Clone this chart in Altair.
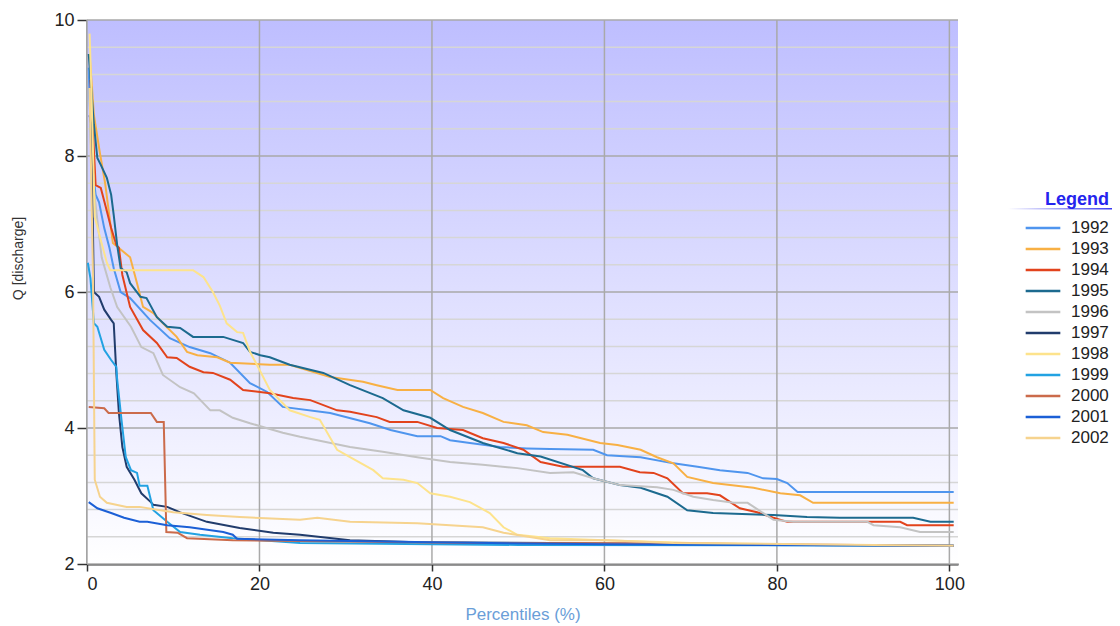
import altair as alt
import pandas as pd

years = ["1992", "1993", "1994", "1995", "1996", "1997", "1998", "1999", "2000", "2001", "2002"]
colors = ["#4f95ee", "#f8b044", "#e2431c", "#1c6a8f", "#c3c3c3", "#213c6c",
          "#fde38c", "#22a2e2", "#cb6b4b", "#1b5fd6", "#f6d38e"]

x_1992 = [0.2, 0.5, 1.0, 1.4, 2.0, 2.6, 3.1, 3.9, 5.0, 7.3, 9.6, 11.9, 14.3, 16.6, 18.9, 20.9, 22.7, 28.2,
          32.8, 35.2, 38.3, 41.0, 42.1, 44.4, 47.9, 51.0, 53.7, 58.7, 60.3, 64.2, 68.0, 70.8, 73.4, 76.6,
          78.4, 80.0, 81.2, 82.4, 100.5]
q_1992 = [9.3, 8.0, 7.43, 7.32, 6.94, 6.65, 6.35, 6.0, 5.91, 5.59, 5.32, 5.19, 5.1, 4.96, 4.66, 4.53, 4.31, 4.22,
          4.07, 3.97, 3.88, 3.88, 3.82, 3.78, 3.72, 3.70, 3.69, 3.68, 3.60, 3.57, 3.48, 3.43, 3.38, 3.34,
          3.26, 3.25, 3.19, 3.06, 3.06]

x_1993 = [0.3, 0.8, 1.5, 2.1, 3.0, 5.0, 5.8, 6.5, 7.7, 8.8, 10.4, 11.6, 12.8, 15.1, 16.6, 21.2, 23.5, 28.2,
          32.0, 33.6, 36.0, 39.8, 41.3, 43.6, 45.9, 48.3, 51.0, 52.9, 55.7, 59.5, 61.5, 64.2, 66.1, 68.0,
          69.6, 72.6, 77.3, 80.4, 82.7, 84.2, 100.5]
q_1993 = [9.5, 8.6, 8.04, 7.6, 6.72, 6.51, 6.13, 5.78, 5.69, 5.54, 5.34, 5.12, 5.07, 5.04, 4.96, 4.93, 4.93, 4.75,
          4.68, 4.63, 4.56, 4.56, 4.44, 4.31, 4.22, 4.09, 4.04, 3.94, 3.90, 3.78, 3.75, 3.68, 3.57, 3.48,
          3.28, 3.19, 3.12, 3.04, 3.01, 2.90, 2.90]

x_1994 = [0.4, 1.0, 1.6, 2.2, 2.8, 3.4, 3.7, 4.1, 5.0, 6.5, 8.1, 9.3, 10.4, 11.9, 13.5, 14.6, 16.6, 18.1,
          21.2, 23.9, 25.9, 29.0, 30.5, 33.6, 35.1, 38.3, 40.6, 43.6, 45.9, 48.3, 50.6, 52.6, 55.2, 61.8,
          64.1, 65.7, 67.3, 69.1, 71.9, 73.4, 75.7, 77.7, 79.6, 81.2, 94.3, 95.1, 100.5]
q_1994 = [9.12, 7.57, 7.53, 7.24, 6.94, 6.69, 6.65, 6.25, 5.78, 5.44, 5.25, 5.04, 5.03, 4.90, 4.82, 4.81, 4.71, 4.56,
          4.51, 4.44, 4.41, 4.26, 4.24, 4.16, 4.09, 4.09, 4.00, 3.97, 3.85, 3.78, 3.68, 3.50, 3.43, 3.43,
          3.35, 3.34, 3.26, 3.04, 3.04, 3.01, 2.82, 2.76, 2.68, 2.62, 2.62, 2.57, 2.57]

x_1995 = [0.2, 0.8, 1.2, 1.6, 2.3, 2.8, 3.1, 3.5, 3.9, 4.6, 5.0, 6.2, 6.9, 8.1, 9.3, 10.8, 12.3, 15.8, 18.1,
          18.9, 20.1, 21.2, 23.5, 27.4, 30.5, 34.3, 36.7, 39.8, 42.1, 45.9, 49.9, 52.6, 57.5, 58.7, 61.8,
          64.2, 67.3, 69.6, 72.6, 79.6, 83.5, 87.3, 95.8, 97.8, 100.5]
q_1995 = [9.5, 8.46, 7.97, 7.87, 7.68, 7.43, 7.13, 6.69, 6.35, 6.29, 6.13, 5.93, 5.91, 5.63, 5.49, 5.47, 5.34, 5.34, 5.25,
          5.12, 5.07, 5.04, 4.93, 4.81, 4.63, 4.44, 4.26, 4.15, 3.97, 3.78, 3.63, 3.58, 3.38, 3.26, 3.16,
          3.12, 2.99, 2.79, 2.75, 2.72, 2.69, 2.68, 2.68, 2.62, 2.62]

x_1996 = [0.3, 0.8, 1.7, 2.7, 3.5, 5.1, 6.3, 7.7, 8.8, 10.8, 12.4, 14.3, 15.4, 16.9, 18.9, 20.8, 22.7, 24.7,
          26.7, 30.5, 34.3, 38.3, 42.1, 45.9, 49.9, 53.7, 56.4, 58.7, 61.8, 66.1, 68.0, 70.3, 72.6, 75.0,
          76.6, 79.6, 81.9, 90.5, 91.2, 94.3, 96.6, 100.5]
q_1996 = [9.0, 7.5, 6.51, 6.07, 5.78, 5.49, 5.19, 5.10, 4.78, 4.60, 4.51, 4.26, 4.26, 4.15, 4.07, 4.00, 3.93, 3.87,
          3.82, 3.72, 3.65, 3.57, 3.50, 3.46, 3.41, 3.34, 3.35, 3.26, 3.16, 3.13, 3.09, 2.99, 2.94, 2.90,
          2.90, 2.65, 2.62, 2.62, 2.57, 2.54, 2.47, 2.47]

x_1997 = [0.3, 0.5, 0.8, 1.4, 2.0, 2.8, 3.1, 3.4, 3.7, 4.1, 4.6, 5.5, 6.3, 7.4, 7.7, 9.3, 10.8, 13.9, 17.7,
          21.6, 24.7, 30.5, 38.3, 53.7, 70.0, 100.5]
q_1997 = [8.6, 8.46, 6.0, 5.93, 5.74, 5.59, 5.54, 4.81, 4.22, 3.72, 3.43, 3.24, 3.04, 2.91, 2.87, 2.84, 2.76, 2.62, 2.53,
          2.46, 2.43, 2.35, 2.32, 2.31, 2.29, 2.27]

x_1998 = [0.3, 0.5, 0.9, 1.5, 2.3, 2.7, 12.3, 13.5, 14.6, 15.4, 16.2, 17.4, 18.1, 18.9, 19.7, 21.2, 23.5, 25.9,
          27.0, 29.0, 30.5, 33.2, 34.3, 36.7, 38.3, 39.8, 42.1, 44.4, 46.7, 48.3, 49.9, 53.7, 60.0, 70.0,
          85.0, 100.5]
q_1998 = [9.8, 9.0, 7.1, 6.81, 6.43, 6.32, 6.32, 6.22, 6.0, 5.80, 5.54, 5.41, 5.40, 5.12, 4.93, 4.56, 4.26, 4.16,
          4.12, 3.68, 3.57, 3.38, 3.26, 3.24, 3.19, 3.04, 2.99, 2.91, 2.75, 2.54, 2.43, 2.38, 2.35, 2.31,
          2.28, 2.27]

x_1999 = [0.1, 0.4, 0.8, 1.2, 2.0, 2.8, 3.4, 3.5, 4.0, 4.5, 5.1, 5.8, 6.1, 7.0, 7.7, 9.3, 10.8, 13.1, 16.9,
          24.7, 50.0, 100.5]
q_1999 = [6.43, 6.2, 5.54, 5.49, 5.15, 5.00, 4.90, 4.71, 4.12, 3.57, 3.38, 3.34, 3.15, 3.15, 2.79, 2.62, 2.47, 2.43,
          2.38, 2.31, 2.28, 2.27]

x_2000 = [0.2, 2.0, 2.5, 7.4, 8.1, 8.9, 9.2, 10.5, 11.6, 16.9, 30.0, 45.0, 70.0, 100.5]
q_2000 = [4.31, 4.29, 4.22, 4.22, 4.09, 4.09, 2.47, 2.46, 2.38, 2.35, 2.33, 2.31, 2.30, 2.27]

x_2001 = [0.2, 1.2, 2.8, 4.3, 6.1, 7.0, 9.3, 11.9, 15.8, 16.9, 17.4, 24.7, 40.0, 60.0, 100.5]
q_2001 = [2.91, 2.82, 2.75, 2.68, 2.62, 2.62, 2.57, 2.54, 2.47, 2.43, 2.37, 2.35, 2.32, 2.29, 2.27]

x_2002 = [0.3, 0.7, 0.9, 1.5, 2.3, 4.6, 6.1, 10.0, 13.9, 17.7, 24.7, 26.7, 30.5, 38.3, 42.1, 45.9, 48.3,
          53.7, 60.3, 68.0, 91.2, 100.5]
q_2002 = [9.0, 6.2, 3.24, 2.99, 2.90, 2.84, 2.84, 2.76, 2.72, 2.69, 2.65, 2.68, 2.62, 2.60, 2.57, 2.54, 2.46,
          2.35, 2.35, 2.31, 2.28, 2.27]

series = {
    "1992": (x_1992, q_1992), "1993": (x_1993, q_1993), "1994": (x_1994, q_1994),
    "1995": (x_1995, q_1995), "1996": (x_1996, q_1996), "1997": (x_1997, q_1997),
    "1998": (x_1998, q_1998), "1999": (x_1999, q_1999), "2000": (x_2000, q_2000),
    "2001": (x_2001, q_2001), "2002": (x_2002, q_2002),
}

x_ticks = [0, 20, 40, 60, 80, 100]
y_ticks = [2, 4, 6, 8, 10]
y_minor = [2.4, 2.8, 3.2, 3.6, 4.4, 4.8, 5.2, 5.6, 6.4, 6.8, 7.2, 7.6, 8.4, 8.8, 9.2, 9.6]

rows = []
for yr in years:
    xs, qs = series[yr]
    for i, (a, b) in enumerate(zip(xs, qs)):
        rows.append({"year": yr, "pct": a, "q": b, "order": i})
df = pd.DataFrame(rows)

W, H = 871, 544
FONT = "Liberation Sans"

xscale = alt.Scale(domain=[0, 101], nice=False, zero=False)
yscale = alt.Scale(domain=[2, 10], nice=False, zero=False)

x_axis = alt.Axis(values=x_ticks, title="Percentiles (%)", grid=False,
                  domainColor="#333333", domainWidth=2, tickColor="#333333",
                  tickWidth=1.5, tickSize=7, labelPadding=4,
                  labelFont=FONT, labelFontSize=18, labelColor="#222222",
                  titleFont=FONT, titleFontSize=17, titleFontWeight="normal",
                  titleColor="#6a9ed8", titlePadding=13)
y_axis = alt.Axis(values=y_ticks, title="Q [discharge]", grid=False,
                  domainColor="#333333", domainWidth=2, tickColor="#333333",
                  tickWidth=1.5, tickSize=10, labelPadding=3,
                  labelFont=FONT, labelFontSize=18, labelColor="#222222",
                  titleFont=FONT, titleFontSize=14, titleFontWeight="normal",
                  titleColor="#333333", titleX=-69, titleY=238,
                  titleAlign="center", titleBaseline="middle")

bg = alt.Chart(pd.DataFrame({"a": [0]})).mark_rect(
    fill=alt.LinearGradient(
        gradient="linear",
        stops=[alt.GradientStop(color="#bebeff", offset=0),
               alt.GradientStop(color="#ffffff", offset=1)],
        x1=0, x2=0, y1=0, y2=1),
).encode(x=alt.value(0), x2=alt.value(W), y=alt.value(0), y2=alt.value(H))

minor = alt.Chart(pd.DataFrame({"q": y_minor})).mark_rule(
    color="#d6d6d6", strokeWidth=1.5
).encode(y=alt.Y("q:Q", scale=yscale, axis=y_axis))

major_h = alt.Chart(pd.DataFrame({"q": y_ticks})).mark_rule(
    color="#a9a9a9", strokeWidth=1.5
).encode(y=alt.Y("q:Q", scale=yscale, axis=y_axis))

major_v = alt.Chart(pd.DataFrame({"pct": x_ticks})).mark_rule(
    color="#a9a9a9", strokeWidth=1.5
).encode(x=alt.X("pct:Q", scale=xscale, axis=x_axis))

lines = alt.Chart(df).mark_line(strokeWidth=2, clip=True).encode(
    x=alt.X("pct:Q", scale=xscale, axis=x_axis),
    y=alt.Y("q:Q", scale=yscale, axis=y_axis),
    color=alt.Color("year:N", scale=alt.Scale(domain=years, range=colors),
                    legend=alt.Legend(title="Legend", orient="none", legendX=937, legendY=171,
                                      symbolType="stroke", symbolStrokeWidth=2.5,
                                      symbolSize=1200, clipHeight=18,
                                      labelFont=FONT, labelFontSize=17,
                                      labelColor="#222222", labelOffset=9,
                                      titleFont=FONT, titleFontSize=18, titleFontWeight="bold",
                                      titleColor="#2424ee", titleAnchor="end",
                                      titlePadding=10, rowPadding=3)),
    order="order:Q",
)

underline = alt.Chart(pd.DataFrame({"a": [0]})).mark_rect(
    fill=alt.LinearGradient(
        gradient="linear",
        stops=[alt.GradientStop(color="#ffffff", offset=0),
               alt.GradientStop(color="#3a3af0", offset=1)],
        x1=0, x2=1, y1=0, y2=0),
).encode(x=alt.value(1008 - 87), x2=alt.value(1112 - 87), y=alt.value(188), y2=alt.value(189.5))

chart = alt.layer(bg, minor, major_h, major_v, lines, underline).properties(
    width=W, height=H,
    padding={"left": 79, "top": 12, "right": 154, "bottom": 62},
    autosize=alt.AutoSizeParams(type="none"),
).configure_view(strokeWidth=0)

chart.save("out.html", embed_options={"renderer": "svg", "actions": False})
